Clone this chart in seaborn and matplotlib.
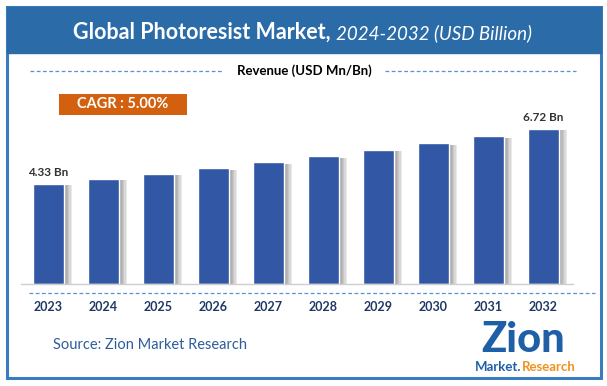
import numpy as np
import pandas as pd
import matplotlib
matplotlib.use("Agg")
import matplotlib.pyplot as plt
import matplotlib.patheffects as pe
from matplotlib.patches import Rectangle
from matplotlib.lines import Line2D
import seaborn as sns

# data
years = ['2023', '2024', '2025', '2026', '2027', '2028', '2029', '2030', '2031', '2032']
revenue = [4.33, 4.55, 4.77, 5.01, 5.26, 5.53, 5.80, 6.09, 6.40, 6.72]
first_label = '4.33 Bn'
last_label = '6.72 Bn'

sns.set_theme(style="white")
plt.rcParams['font.family'] = ['Lato', 'DejaVu Sans']

W, H = 607, 386
fig = plt.figure(figsize=(W / 100, H / 100), dpi=100)
fig.patch.set_facecolor('white')

def fx(px):
    return px / W

def fy(py):
    return 1 - py / H

BLUE_FRAME = '#3A7CC0'
BANNER = '#2B6CA8'
BAR = '#3157A5'

# outer frame
fig.add_artist(Rectangle((fx(7), fy(378)), fx(594), (378 - 7) / H, transform=fig.transFigure,
                         fill=False, edgecolor=BLUE_FRAME, linewidth=2.2))
# title banner
fig.add_artist(Rectangle((fx(7), fy(53)), fx(594), 46 / H, transform=fig.transFigure,
                         facecolor=BANNER, edgecolor=BANNER))
t1 = fig.text(fx(73), fy(32), 'Global Photoresist Market,', color='white', fontsize=15.5,
              fontweight='bold', va='center', ha='left')
fig.canvas.draw()
bb = t1.get_window_extent()
fig.text(bb.x1 / W + fx(5), fy(33), '2024-2032 (USD Billion)', color='white', fontsize=13.5,
         style='italic', va='center', ha='left')

# revenue legend-like line
fig.add_artist(Line2D([fx(30), fx(222)], [fy(71), fy(71)], transform=fig.transFigure,
                      color='#5B8FD6', linestyle=(0, (3, 2)), linewidth=0.9))
fig.add_artist(Line2D([fx(385), fx(576)], [fy(71), fy(71)], transform=fig.transFigure,
                      color='#5B8FD6', linestyle=(0, (3, 2)), linewidth=0.9))
fig.text(fx(304), fy(71), 'Revenue (USD Mn/Bn)', color='black', fontsize=9.5,
         fontweight='bold', ha='center', va='center')

# CAGR box
fig.add_artist(Rectangle((fx(59), fy(115)), fx(128), 21 / H, transform=fig.transFigure,
                         facecolor='#D2600E', edgecolor='none'))
fig.text(fx(123), fy(104.5), 'CAGR : 5.00%', color='white', fontsize=10.5,
         fontweight='bold', ha='center', va='center')

# bars
scale = 23.1
ax = fig.add_axes([fx(21), fy(284), fx(552), 184 / H])
df = pd.DataFrame({'year': years, 'revenue': revenue})
sns.barplot(data=df, x='year', y='revenue', color=BAR, width=0.56, saturation=1, ax=ax)
shadow = [pe.SimplePatchShadow(offset=(k, -1), shadow_rgbFace='#606060', alpha=0.13)
          for k in range(6, 0, -1)]
for p in ax.patches:
    p.set_path_effects(shadow + [pe.Normal()])
ax.set_xlim(-0.5, 9.54)
ax.set_ylim(0, 184 / scale)
ax.set_xlabel('')
ax.set_ylabel('')
ax.set_yticks([])
for s in ['top', 'right', 'left']:
    ax.spines[s].set_visible(False)
ax.spines['bottom'].set_color('#cfcfcf')
ax.spines['bottom'].set_linewidth(1)
ax.tick_params(axis='x', length=0, pad=12, labelsize=9, labelcolor='#1F3864')
for lab in ax.get_xticklabels():
    lab.set_fontweight('bold')
ax.patch.set_alpha(0)

ax.text(0, revenue[0] + 0.25, first_label, ha='center', va='bottom', fontsize=8.5,
        fontweight='bold', color='#333333')
ax.text(9, revenue[-1] + 0.25, last_label, ha='center', va='bottom', fontsize=8.5,
        fontweight='bold', color='#333333')

# dashed line under bars
fig.add_artist(Line2D([fx(29), fx(595)], [fy(293), fy(293)], transform=fig.transFigure,
                      color='#5B8FD6', linestyle=(0, (3, 2)), linewidth=0.9))

# source
fig.text(fx(53), fy(345), 'Source: Zion Market Research', color='#2E5C9A', fontsize=10.5,
         ha='left', va='center')

# logo
fig.text(fx(523), fy(340), 'Zion', color='#1F5FA8', fontsize=30, fontweight='black',
         ha='center', va='center')
m = fig.text(fx(475), fy(367), 'Market.', color='#1F5FA8', fontsize=9.5, fontweight='bold',
             ha='left', va='center')
fig.canvas.draw()
mb = m.get_window_extent()
fig.text(mb.x1 / W, fy(367), 'Research', color='#F0921E', fontsize=9.5, fontweight='bold',
         ha='left', va='center')

fig.savefig('out.png', dpi=100)
